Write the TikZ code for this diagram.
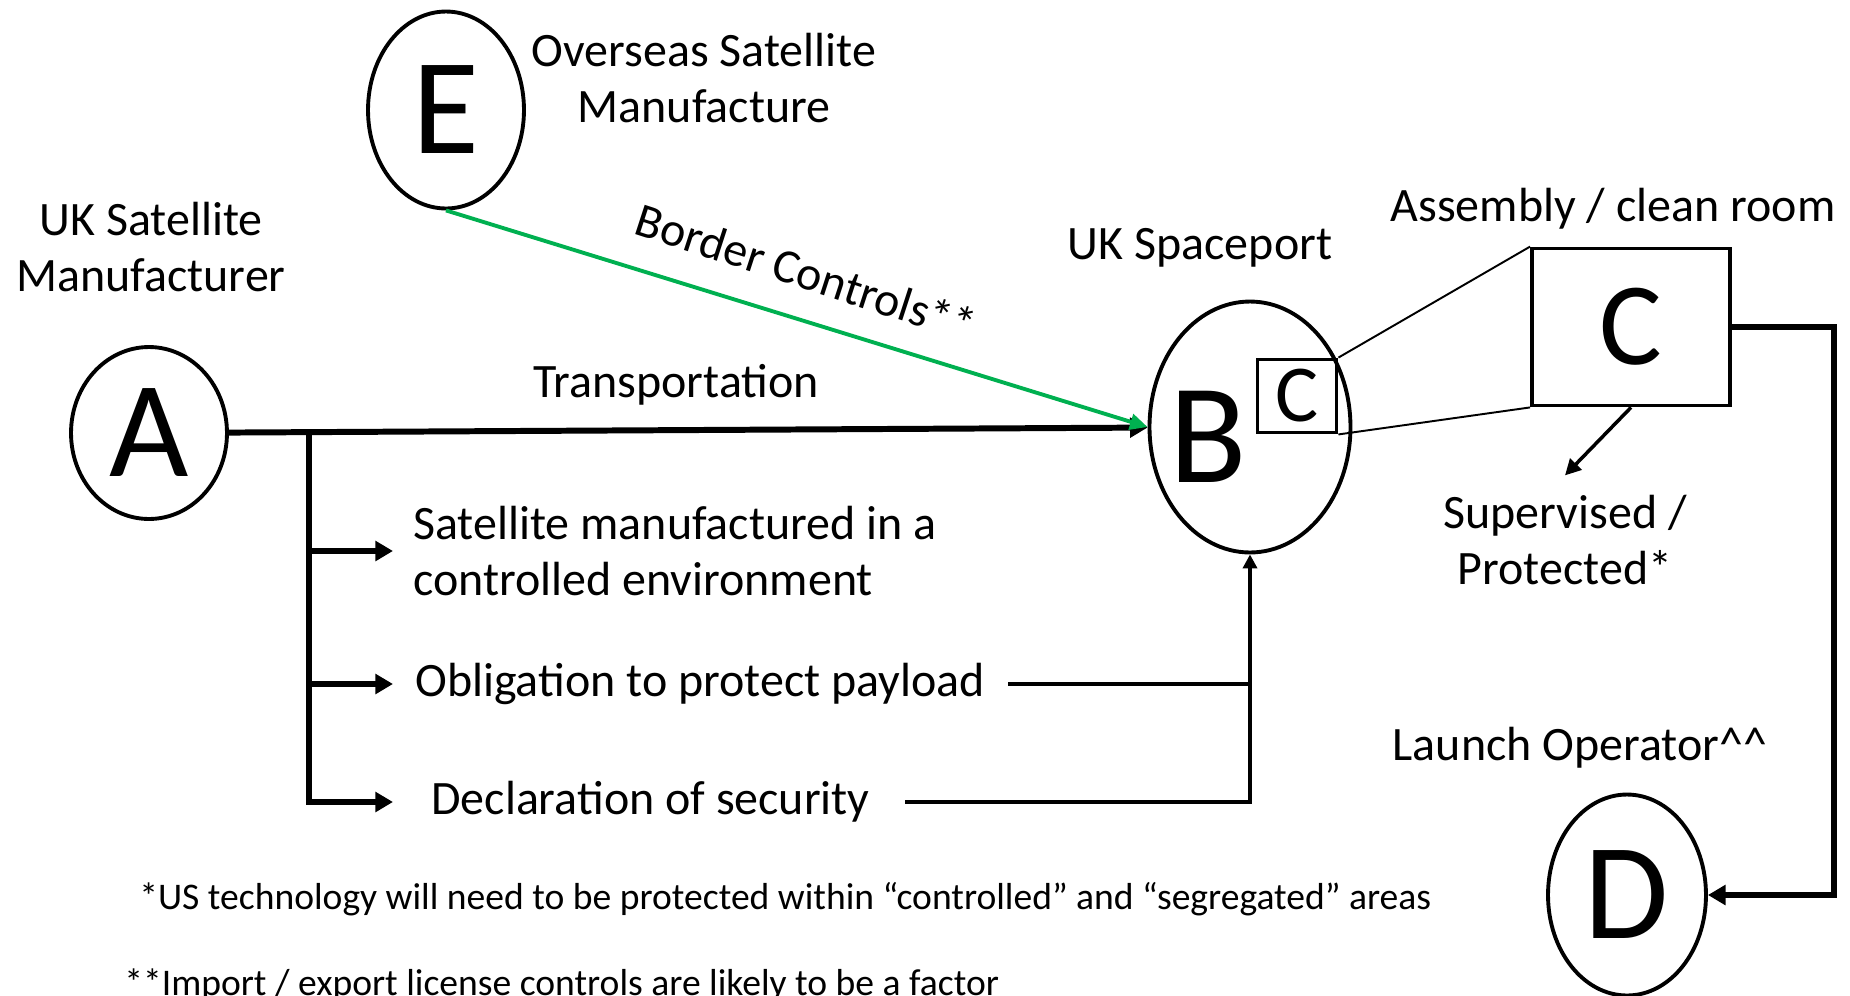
\documentclass[tikz,border=0pt]{standalone}
\usepackage{fontspec}
\setmainfont{Carlito}
\usepackage{xcolor}
\usetikzlibrary{positioning,arrows.meta,calc,shapes.geometric}
\definecolor{bordergreen}{RGB}{0,176,80}

\begin{document}
\begin{tikzpicture}[
		x=0.02cm, y=-0.02cm,
		txt/.style={font=\fontsize{27.3}{32.4}\selectfont, align=center, inner sep=0pt},
		note/.style={font=\fontsize{21.4}{25}\selectfont, inner sep=0pt, anchor=west},
		ring/.style={draw, ellipse, line width=2.2pt, inner sep=0pt, font=\fontsize{78}{78}\selectfont},
		sq/.style={draw, line width=2.2pt, inner sep=0pt},
		arr/.style={-{Triangle[length=10pt, width=11pt]}, line width=3.4pt},
		link/.style={line width=2pt},
		thinln/.style={line width=1.1pt}
		]
		\useasboundingbox (0,0) rectangle (1850,995);
		\node[ring, minimum width=3.12cm, minimum height=3.44cm] (A) at (149,433) {A};
		\node[ring, minimum width=3.12cm, minimum height=3.94cm] (E) at (446,110) {E};
		\node[ring, minimum width=4.02cm, minimum height=5.02cm] (B) at (1250,427) {};
		\node[inner sep=0pt, font=\fontsize{81}{81}\selectfont] (Bl) at (1208,437) {B};
		\node[sq, minimum width=1.58cm, minimum height=1.46cm, font=\fontsize{46}{46}\selectfont] (Cs) at (1297,396) {C};
		\node[sq, minimum width=3.96cm, minimum height=3.14cm, font=\fontsize{67}{67}\selectfont] (C) at (1631,327) {C};
		\node[ring, minimum width=3.16cm, minimum height=4.02cm] (D) at (1627,895) {D};
		\node[txt] (ukman) at (151,247) {UK Satellite\\Manufacturer};
		\node[txt] (osman) at (704,78) {Overseas Satellite\\Manufacture};
		\node[txt] (port) at (1200,248) {UK Spaceport};
		\node[txt] (clean) at (1613,209) {Assembly / clean room};
		\node[txt] (sup) at (1565,540) {Supervised /\\Protected*};
		\node[txt] (lop) at (1580,748) {Launch Operator\textasciicircum\textasciicircum};
		\node[txt] (trans) at (676,385) {Transportation};
		\node[txt, rotate=-18] (border) at (806,272) {Border Controls**};
		\node[txt, align=left, anchor=west] (sat) at (413,551) {Satellite manufactured in a\\controlled environment};
		\node[txt, anchor=west] (oblig) at (415,684) {Obligation to protect payload};
		\node[txt, anchor=west] (decl) at (431,802) {Declaration of security};
		\node[note] (fn1) at (139,899) {*US technology will need to be protected within “controlled” and “segregated” areas};
		\node[note] (fn2) at (124,985) {**Import / export license controls are likely to be a factor};
		\coordinate (split) at (309,432);
		\coordinate (tip) at (393,0);
		\draw[arr] (A) -- (B);
		\draw[arr] (split) |- (tip |- decl.west);
		\draw[arr] (split |- sat.west) -- (tip |- sat.west);
		\draw[arr] (split |- oblig.west) -- (tip |- oblig.west);
		\draw[link] ($(oblig.east)+(23,0)$) -- (oblig.east -| B.south);
		\draw[link, -{Triangle[length=8pt, width=8pt]}] ($(decl.east)+(35,0)$) -- (decl.east -| B.south) -- (B.south);
		\draw[link, line width=2.2pt, draw=bordergreen, -{Triangle[length=10pt, width=9pt]}] (E.south) -- (B.west);
		\draw[thinln] (Cs.north east) -- (C.north west);
		\draw[thinln] (Cs.south east) -- (C.south west);
		\draw[link, -{Triangle[length=9pt, width=9pt]}] (C.south) -- ($(sup.north)+(0,-19)$);
		\draw[arr] (C.east) -- ++(102,0) |- (D.east);
	\end{tikzpicture}
\end{document}
